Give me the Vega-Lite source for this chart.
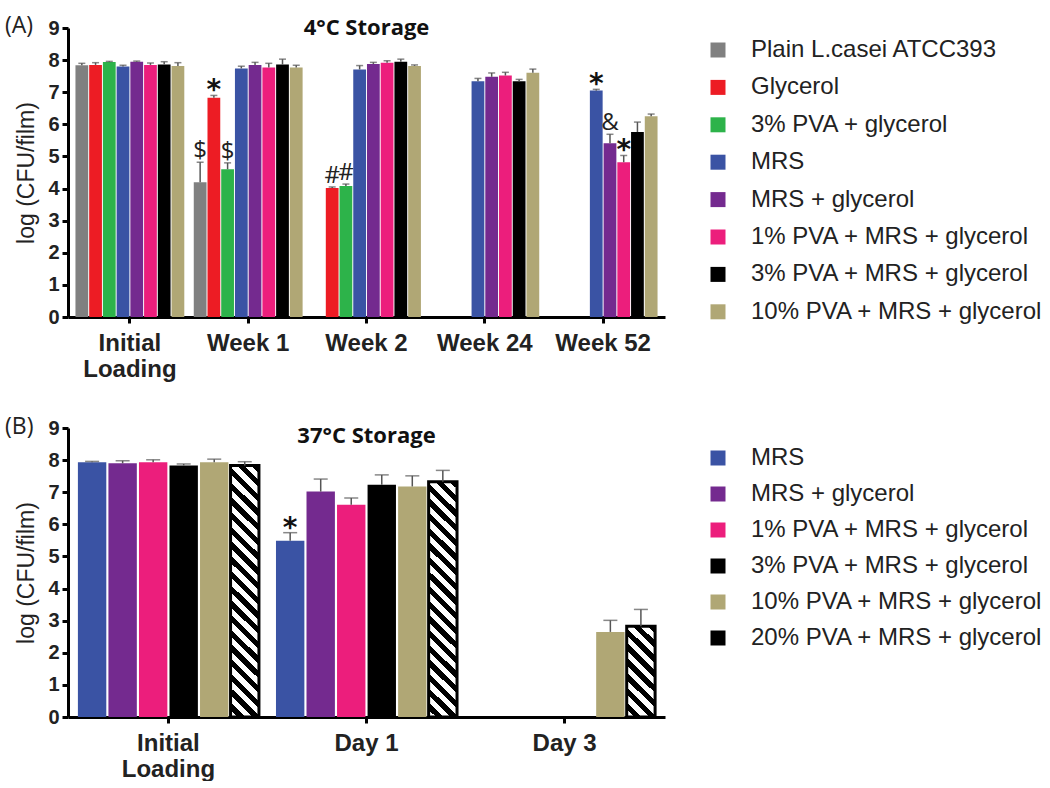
{
 "$schema": "https://vega.github.io/schema/vega-lite/v6.json",
 "padding": {"left": 5, "top": 15, "right": 5, "bottom": 0},
 "background": "white",
 "spacing": 35,
 "resolve": {"scale": {"color": "independent", "x": "independent", "y": "independent", "xOffset": "independent"}},
 "config": {
  "view": {"stroke": null},
  "font": "Liberation Sans",
  "axis": {"domainColor": "#000", "domainWidth": 3, "tickColor": "#000", "tickWidth": 3, "tickSize": 6, "labelFont": "Liberation Sans", "labelFontWeight": "bold", "labelColor": "#222", "grid": false, "titleFont": "Liberation Sans", "titleFontWeight": "normal", "titleColor": "#222"},
  "axisY": {"labelFontSize": 20, "titleFontSize": 23, "labelPadding": 3, "titlePadding": 9},
  "axisX": {"labelFontSize": 24, "labelPadding": 8, "labelLineHeight": 26, "labelAngle": 0},
  "legend": {"orient": "none", "symbolType": "square", "symbolSize": 225, "symbolStrokeWidth": 0, "labelFont": "Liberation Sans", "labelFontSize": 24, "labelColor": "#222", "labelOffset": 21, "padding": 0, "labelLimit": 400}
 },
 "vconcat": [
  {
   "title": {"text": "(A)", "anchor": "start", "frame": "group", "dx": -63, "offset": -39, "baseline": "alphabetic", "font": "Open Sans", "fontSize": 23, "fontWeight": "normal", "color": "#222"},
   "resolve": {"scale": {"color": "independent", "x": "independent", "y": "independent", "xOffset": "independent"}},
   "vconcat": [
    {
     "width": 597,
     "height": 289,
     "title": {"text": "4°C Storage", "anchor": "middle", "frame": "group", "offset": -39, "baseline": "alphabetic", "font": "Open Sans", "fontSize": 22, "fontWeight": "bold", "color": "#111"},
     "data": {"values": [
      {"time": "Initial Loading", "group": "Plain L.casei ATCC393", "value": 7.84, "hi": 7.9},
      {"time": "Initial Loading", "group": "Glycerol", "value": 7.85, "hi": 7.92},
      {"time": "Initial Loading", "group": "3% PVA + glycerol", "value": 7.94, "hi": 7.96},
      {"time": "Initial Loading", "group": "MRS", "value": 7.8, "hi": 7.84},
      {"time": "Initial Loading", "group": "MRS + glycerol", "value": 7.95, "hi": 7.97},
      {"time": "Initial Loading", "group": "1% PVA + MRS + glycerol", "value": 7.85, "hi": 7.91},
      {"time": "Initial Loading", "group": "3% PVA + MRS + glycerol", "value": 7.86, "hi": 7.95},
      {"time": "Initial Loading", "group": "10% PVA + MRS + glycerol", "value": 7.82, "hi": 7.92},
      {"time": "Week 1", "group": "Plain L.casei ATCC393", "value": 4.2, "hi": 4.82, "sig": "$"},
      {"time": "Week 1", "group": "Glycerol", "value": 6.83, "hi": 6.9, "sig": "*"},
      {"time": "Week 1", "group": "3% PVA + glycerol", "value": 4.6, "hi": 4.8, "sig": "$"},
      {"time": "Week 1", "group": "MRS", "value": 7.74, "hi": 7.81},
      {"time": "Week 1", "group": "MRS + glycerol", "value": 7.85, "hi": 7.93},
      {"time": "Week 1", "group": "1% PVA + MRS + glycerol", "value": 7.77, "hi": 7.9},
      {"time": "Week 1", "group": "3% PVA + MRS + glycerol", "value": 7.86, "hi": 8.03},
      {"time": "Week 1", "group": "10% PVA + MRS + glycerol", "value": 7.77, "hi": 7.84},
      {"time": "Week 2", "group": "Glycerol", "value": 4.02, "hi": 4.05, "sig": "#"},
      {"time": "Week 2", "group": "3% PVA + glycerol", "value": 4.08, "hi": 4.14, "sig": "#"},
      {"time": "Week 2", "group": "MRS", "value": 7.71, "hi": 7.83},
      {"time": "Week 2", "group": "MRS + glycerol", "value": 7.88, "hi": 7.93},
      {"time": "Week 2", "group": "1% PVA + MRS + glycerol", "value": 7.92, "hi": 7.98},
      {"time": "Week 2", "group": "3% PVA + MRS + glycerol", "value": 7.95, "hi": 8.03},
      {"time": "Week 2", "group": "10% PVA + MRS + glycerol", "value": 7.82, "hi": 7.85},
      {"time": "Week 24", "group": "MRS", "value": 7.34, "hi": 7.43},
      {"time": "Week 24", "group": "MRS + glycerol", "value": 7.48, "hi": 7.6},
      {"time": "Week 24", "group": "1% PVA + MRS + glycerol", "value": 7.52, "hi": 7.62},
      {"time": "Week 24", "group": "3% PVA + MRS + glycerol", "value": 7.34, "hi": 7.4},
      {"time": "Week 24", "group": "10% PVA + MRS + glycerol", "value": 7.61, "hi": 7.72},
      {"time": "Week 52", "group": "MRS", "value": 7.05, "hi": 7.09, "sig": "*"},
      {"time": "Week 52", "group": "MRS + glycerol", "value": 5.41, "hi": 5.69, "sig": "&"},
      {"time": "Week 52", "group": "1% PVA + MRS + glycerol", "value": 4.82, "hi": 5.03, "sig": "*"},
      {"time": "Week 52", "group": "3% PVA + MRS + glycerol", "value": 5.76, "hi": 6.07},
      {"time": "Week 52", "group": "10% PVA + MRS + glycerol", "value": 6.25, "hi": 6.32}
     ]},
     "encoding": {
      "x": {"field": "time", "type": "nominal", "sort": ["Initial Loading", "Week 1", "Week 2", "Week 24", "Week 52"], "scale": {"paddingInner": 0.08, "paddingOuter": 0.063}, "axis": {"title": null, "labelExpr": "datum.label == 'Initial Loading' ? ['Initial', 'Loading'] : datum.label"}},
      "xOffset": {"field": "group", "type": "nominal", "scale": {"domain": ["Plain L.casei ATCC393", "Glycerol", "3% PVA + glycerol", "MRS", "MRS + glycerol", "1% PVA + MRS + glycerol", "3% PVA + MRS + glycerol", "10% PVA + MRS + glycerol"], "paddingInner": 0.07}},
      "y": {"field": "value", "type": "quantitative", "scale": {"domain": [0, 9], "nice": false}, "axis": {"values": [0, 1, 2, 3, 4, 5, 6, 7, 8, 9], "title": "log (CFU/film)"}}
     },
     "layer": [
      {"mark": {"type": "bar"},
       "encoding": {"color": {"field": "group", "type": "nominal", "scale": {"domain": ["Plain L.casei ATCC393", "Glycerol", "3% PVA + glycerol", "MRS", "MRS + glycerol", "1% PVA + MRS + glycerol", "3% PVA + MRS + glycerol", "10% PVA + MRS + glycerol"], "range": ["#808080", "#ED1C24", "#2DB34A", "#3A53A4", "#742A8F", "#EC1E7C", "#000000", "#B0A775"]}, "legend": {"title": null, "legendX": 638, "legendY": 10, "rowPadding": 13.4}}}},
      {"mark": {"type": "rule", "color": "#555", "strokeWidth": 1.5},
       "encoding": {"y2": {"field": "hi"}}},
      {"mark": {"type": "tick", "color": "#555", "thickness": 1.5, "size": 7},
       "encoding": {"y": {"field": "hi", "type": "quantitative", "title": "log (CFU/film)"}}},
      {"transform": [{"filter": "datum.sig === '*'"}],
       "mark": {"type": "text", "font": "DejaVu Sans", "fontSize": 28, "fontWeight": "bold", "baseline": "alphabetic", "dy": 4, "color": "#111"},
       "encoding": {"y": {"field": "hi", "type": "quantitative", "title": "log (CFU/film)"}, "text": {"field": "sig"}}},
      {"transform": [{"filter": "isValid(datum.sig) && datum.sig !== '*'"}],
       "mark": {"type": "text", "font": "Open Sans", "fontSize": 24, "baseline": "alphabetic", "dy": -4, "color": "#222"},
       "encoding": {"y": {"field": "hi", "type": "quantitative", "title": "log (CFU/film)"}, "text": {"field": "sig"}}}
     ]
    }
   ]
  },
  {
   "title": {"text": "(B)", "anchor": "start", "frame": "group", "dx": -63, "offset": -39, "baseline": "alphabetic", "font": "Open Sans", "fontSize": 23, "fontWeight": "normal", "color": "#222"},
   "resolve": {"scale": {"color": "independent", "x": "independent", "y": "independent", "xOffset": "independent"}},
   "vconcat": [
    {
     "width": 597,
     "height": 289,
     "title": {"text": "37°C Storage", "anchor": "middle", "frame": "group", "offset": -47, "baseline": "alphabetic", "font": "Open Sans", "fontSize": 22, "fontWeight": "bold", "color": "#111"},
     "data": {"values": [
      {"time": "Initial Loading", "group": "MRS", "value": 7.93, "hi": 7.96},
      {"time": "Initial Loading", "group": "MRS + glycerol", "value": 7.9, "hi": 7.98},
      {"time": "Initial Loading", "group": "1% PVA + MRS + glycerol", "value": 7.93, "hi": 8.01},
      {"time": "Initial Loading", "group": "3% PVA + MRS + glycerol", "value": 7.83, "hi": 7.88},
      {"time": "Initial Loading", "group": "10% PVA + MRS + glycerol", "value": 7.93, "hi": 8.03},
      {"time": "Initial Loading", "group": "20% PVA + MRS + glycerol", "value": 7.83, "hi": 7.95},
      {"time": "Day 1", "group": "MRS", "value": 5.49, "hi": 5.74, "sig": "*"},
      {"time": "Day 1", "group": "MRS + glycerol", "value": 7.02, "hi": 7.41},
      {"time": "Day 1", "group": "1% PVA + MRS + glycerol", "value": 6.61, "hi": 6.82},
      {"time": "Day 1", "group": "3% PVA + MRS + glycerol", "value": 7.23, "hi": 7.54},
      {"time": "Day 1", "group": "10% PVA + MRS + glycerol", "value": 7.18, "hi": 7.51},
      {"time": "Day 1", "group": "20% PVA + MRS + glycerol", "value": 7.33, "hi": 7.68},
      {"time": "Day 3", "group": "10% PVA + MRS + glycerol", "value": 2.65, "hi": 3.01},
      {"time": "Day 3", "group": "20% PVA + MRS + glycerol", "value": 2.83, "hi": 3.35}
     ]},
     "encoding": {
      "x": {"field": "time", "type": "nominal", "sort": ["Initial Loading", "Day 1", "Day 3"], "scale": {"paddingInner": 0.086, "paddingOuter": 0.05}, "axis": {"title": null, "labelExpr": "datum.label == 'Initial Loading' ? ['Initial', 'Loading'] : datum.label"}},
      "xOffset": {"field": "group", "type": "nominal", "scale": {"domain": ["MRS", "MRS + glycerol", "1% PVA + MRS + glycerol", "3% PVA + MRS + glycerol", "10% PVA + MRS + glycerol", "20% PVA + MRS + glycerol"], "paddingInner": 0.07}},
      "y": {"field": "value", "type": "quantitative", "scale": {"domain": [0, 9], "nice": false}, "axis": {"values": [0, 1, 2, 3, 4, 5, 6, 7, 8, 9], "title": "log (CFU/film)"}}
     },
     "layer": [
      {"mark": {"type": "bar"},
       "encoding": {"color": {"field": "group", "type": "nominal", "scale": {"domain": ["MRS", "MRS + glycerol", "1% PVA + MRS + glycerol", "3% PVA + MRS + glycerol", "10% PVA + MRS + glycerol", "20% PVA + MRS + glycerol"], "range": ["#3A53A4", "#742A8F", "#EC1E7C", "#000000", "#B0A775", "#000000"]}, "legend": {"title": null, "legendX": 638, "legendY": 18, "rowPadding": 12}}}},
      {"transform": [{"filter": "datum.group === '20% PVA + MRS + glycerol' && datum.time === 'Initial Loading'"}],
       "mark": {"type": "bar", "stroke": "#000", "strokeWidth": 3, "fill": {"gradient": "linear", "x1": 0, "y1": 1, "x2": 0.1225, "y2": -0.0976, "stops": [
        {"offset": 0, "color": "white"}, {"offset": 0.0263, "color": "white"}, {"offset": 0.0263, "color": "black"}, {"offset": 0.0526, "color": "black"},
        {"offset": 0.0526, "color": "white"}, {"offset": 0.0789, "color": "white"}, {"offset": 0.0789, "color": "black"}, {"offset": 0.1053, "color": "black"},
        {"offset": 0.1053, "color": "white"}, {"offset": 0.1316, "color": "white"}, {"offset": 0.1316, "color": "black"}, {"offset": 0.1579, "color": "black"},
        {"offset": 0.1579, "color": "white"}, {"offset": 0.1842, "color": "white"}, {"offset": 0.1842, "color": "black"}, {"offset": 0.2105, "color": "black"},
        {"offset": 0.2105, "color": "white"}, {"offset": 0.2368, "color": "white"}, {"offset": 0.2368, "color": "black"}, {"offset": 0.2632, "color": "black"},
        {"offset": 0.2632, "color": "white"}, {"offset": 0.2895, "color": "white"}, {"offset": 0.2895, "color": "black"}, {"offset": 0.3158, "color": "black"},
        {"offset": 0.3158, "color": "white"}, {"offset": 0.3421, "color": "white"}, {"offset": 0.3421, "color": "black"}, {"offset": 0.3684, "color": "black"},
        {"offset": 0.3684, "color": "white"}, {"offset": 0.3947, "color": "white"}, {"offset": 0.3947, "color": "black"}, {"offset": 0.4211, "color": "black"},
        {"offset": 0.4211, "color": "white"}, {"offset": 0.4474, "color": "white"}, {"offset": 0.4474, "color": "black"}, {"offset": 0.4737, "color": "black"},
        {"offset": 0.4737, "color": "white"}, {"offset": 0.5, "color": "white"}, {"offset": 0.5, "color": "black"}, {"offset": 0.5263, "color": "black"},
        {"offset": 0.5263, "color": "white"}, {"offset": 0.5526, "color": "white"}, {"offset": 0.5526, "color": "black"}, {"offset": 0.5789, "color": "black"},
        {"offset": 0.5789, "color": "white"}, {"offset": 0.6053, "color": "white"}, {"offset": 0.6053, "color": "black"}, {"offset": 0.6316, "color": "black"},
        {"offset": 0.6316, "color": "white"}, {"offset": 0.6579, "color": "white"}, {"offset": 0.6579, "color": "black"}, {"offset": 0.6842, "color": "black"},
        {"offset": 0.6842, "color": "white"}, {"offset": 0.7105, "color": "white"}, {"offset": 0.7105, "color": "black"}, {"offset": 0.7368, "color": "black"},
        {"offset": 0.7368, "color": "white"}, {"offset": 0.7632, "color": "white"}, {"offset": 0.7632, "color": "black"}, {"offset": 0.7895, "color": "black"},
        {"offset": 0.7895, "color": "white"}, {"offset": 0.8158, "color": "white"}, {"offset": 0.8158, "color": "black"}, {"offset": 0.8421, "color": "black"},
        {"offset": 0.8421, "color": "white"}, {"offset": 0.8684, "color": "white"}, {"offset": 0.8684, "color": "black"}, {"offset": 0.8947, "color": "black"},
        {"offset": 0.8947, "color": "white"}, {"offset": 0.9211, "color": "white"}, {"offset": 0.9211, "color": "black"}, {"offset": 0.9474, "color": "black"},
        {"offset": 0.9474, "color": "white"}, {"offset": 0.9737, "color": "white"}, {"offset": 0.9737, "color": "black"}, {"offset": 1, "color": "black"}
       ]}},
       "encoding": {}},
      {"transform": [{"filter": "datum.group === '20% PVA + MRS + glycerol' && datum.time === 'Day 1'"}],
       "mark": {"type": "bar", "stroke": "#000", "strokeWidth": 3, "fill": {"gradient": "linear", "x1": 0, "y1": 1, "x2": 0.1315, "y2": -0.1033, "stops": [
        {"offset": 0, "color": "white"}, {"offset": 0.0278, "color": "white"}, {"offset": 0.0278, "color": "black"}, {"offset": 0.0556, "color": "black"},
        {"offset": 0.0556, "color": "white"}, {"offset": 0.0833, "color": "white"}, {"offset": 0.0833, "color": "black"}, {"offset": 0.1111, "color": "black"},
        {"offset": 0.1111, "color": "white"}, {"offset": 0.1389, "color": "white"}, {"offset": 0.1389, "color": "black"}, {"offset": 0.1667, "color": "black"},
        {"offset": 0.1667, "color": "white"}, {"offset": 0.1944, "color": "white"}, {"offset": 0.1944, "color": "black"}, {"offset": 0.2222, "color": "black"},
        {"offset": 0.2222, "color": "white"}, {"offset": 0.25, "color": "white"}, {"offset": 0.25, "color": "black"}, {"offset": 0.2778, "color": "black"},
        {"offset": 0.2778, "color": "white"}, {"offset": 0.3056, "color": "white"}, {"offset": 0.3056, "color": "black"}, {"offset": 0.3333, "color": "black"},
        {"offset": 0.3333, "color": "white"}, {"offset": 0.3611, "color": "white"}, {"offset": 0.3611, "color": "black"}, {"offset": 0.3889, "color": "black"},
        {"offset": 0.3889, "color": "white"}, {"offset": 0.4167, "color": "white"}, {"offset": 0.4167, "color": "black"}, {"offset": 0.4444, "color": "black"},
        {"offset": 0.4444, "color": "white"}, {"offset": 0.4722, "color": "white"}, {"offset": 0.4722, "color": "black"}, {"offset": 0.5, "color": "black"},
        {"offset": 0.5, "color": "white"}, {"offset": 0.5278, "color": "white"}, {"offset": 0.5278, "color": "black"}, {"offset": 0.5556, "color": "black"},
        {"offset": 0.5556, "color": "white"}, {"offset": 0.5833, "color": "white"}, {"offset": 0.5833, "color": "black"}, {"offset": 0.6111, "color": "black"},
        {"offset": 0.6111, "color": "white"}, {"offset": 0.6389, "color": "white"}, {"offset": 0.6389, "color": "black"}, {"offset": 0.6667, "color": "black"},
        {"offset": 0.6667, "color": "white"}, {"offset": 0.6944, "color": "white"}, {"offset": 0.6944, "color": "black"}, {"offset": 0.7222, "color": "black"},
        {"offset": 0.7222, "color": "white"}, {"offset": 0.75, "color": "white"}, {"offset": 0.75, "color": "black"}, {"offset": 0.7778, "color": "black"},
        {"offset": 0.7778, "color": "white"}, {"offset": 0.8056, "color": "white"}, {"offset": 0.8056, "color": "black"}, {"offset": 0.8333, "color": "black"},
        {"offset": 0.8333, "color": "white"}, {"offset": 0.8611, "color": "white"}, {"offset": 0.8611, "color": "black"}, {"offset": 0.8889, "color": "black"},
        {"offset": 0.8889, "color": "white"}, {"offset": 0.9167, "color": "white"}, {"offset": 0.9167, "color": "black"}, {"offset": 0.9444, "color": "black"},
        {"offset": 0.9444, "color": "white"}, {"offset": 0.9722, "color": "white"}, {"offset": 0.9722, "color": "black"}, {"offset": 1, "color": "black"}
       ]}},
       "encoding": {}},
      {"transform": [{"filter": "datum.group === '20% PVA + MRS + glycerol' && datum.time === 'Day 3'"}],
       "mark": {"type": "bar", "stroke": "#000", "strokeWidth": 3, "fill": {"gradient": "linear", "x1": 0, "y1": 1, "x2": 0.3687, "y2": -0.1946, "stops": [
        {"offset": 0, "color": "white"}, {"offset": 0.0625, "color": "white"}, {"offset": 0.0625, "color": "black"}, {"offset": 0.125, "color": "black"},
        {"offset": 0.125, "color": "white"}, {"offset": 0.1875, "color": "white"}, {"offset": 0.1875, "color": "black"}, {"offset": 0.25, "color": "black"},
        {"offset": 0.25, "color": "white"}, {"offset": 0.3125, "color": "white"}, {"offset": 0.3125, "color": "black"}, {"offset": 0.375, "color": "black"},
        {"offset": 0.375, "color": "white"}, {"offset": 0.4375, "color": "white"}, {"offset": 0.4375, "color": "black"}, {"offset": 0.5, "color": "black"},
        {"offset": 0.5, "color": "white"}, {"offset": 0.5625, "color": "white"}, {"offset": 0.5625, "color": "black"}, {"offset": 0.625, "color": "black"},
        {"offset": 0.625, "color": "white"}, {"offset": 0.6875, "color": "white"}, {"offset": 0.6875, "color": "black"}, {"offset": 0.75, "color": "black"},
        {"offset": 0.75, "color": "white"}, {"offset": 0.8125, "color": "white"}, {"offset": 0.8125, "color": "black"}, {"offset": 0.875, "color": "black"},
        {"offset": 0.875, "color": "white"}, {"offset": 0.9375, "color": "white"}, {"offset": 0.9375, "color": "black"}, {"offset": 1, "color": "black"}
       ]}},
       "encoding": {}},
      {"mark": {"type": "rule", "color": "#555", "strokeWidth": 1.5},
       "encoding": {"y2": {"field": "hi"}}},
      {"mark": {"type": "tick", "color": "#555", "thickness": 1.5, "size": 14},
       "encoding": {"y": {"field": "hi", "type": "quantitative", "title": "log (CFU/film)"}}},
      {"transform": [{"filter": "datum.sig === '*'"}],
       "mark": {"type": "text", "font": "DejaVu Sans", "fontSize": 28, "fontWeight": "bold", "baseline": "alphabetic", "dy": 4, "color": "#111"},
       "encoding": {"y": {"field": "hi", "type": "quantitative", "title": "log (CFU/film)"}, "text": {"field": "sig"}}}
     ]
    }
   ]
  }
 ]
}
